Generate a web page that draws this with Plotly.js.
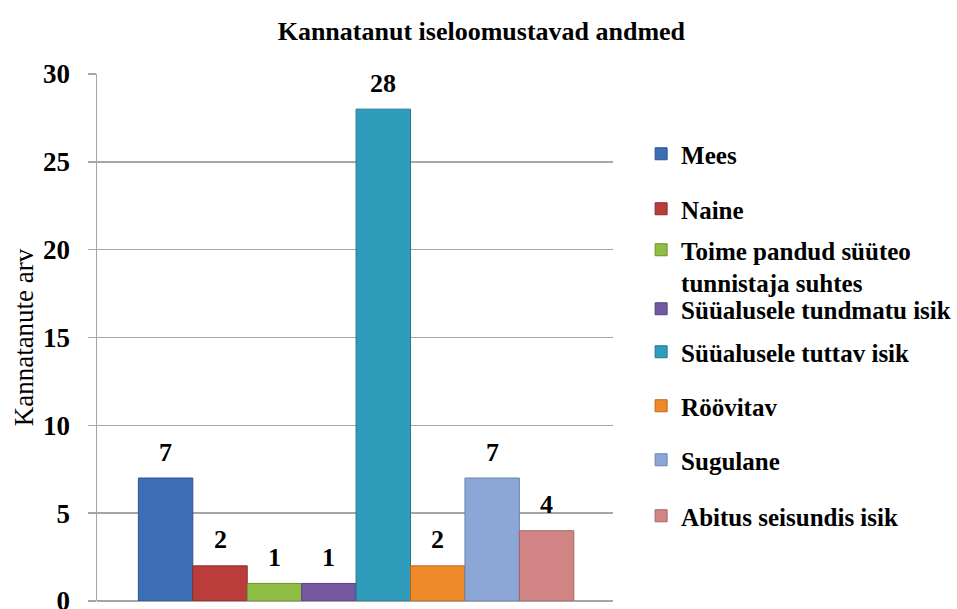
<!DOCTYPE html>
<html>
<head>
<meta charset="utf-8">
<script src="https://cdn.plot.ly/plotly-3.0.1.min.js"></script>
<style>html,body{margin:0;padding:0;background:#fff;overflow:hidden}#chart{width:957px;height:609px}</style>
</head>
<body>
<div id="chart"></div>
<script>
const categories = ["Mees", "Naine", "Toime pandud süüteo<br>tunnistaja suhtes", "Süüalusele tundmatu isik", "Süüalusele tuttav isik", "Röövitav", "Sugulane", "Abitus seisundis isik"];
const values = [7, 2, 1, 1, 28, 2, 7, 4];
const colors = ["#3d6db5", "#bb3d3b", "#8fbe45", "#7559a0", "#2f9cbb", "#ef8a2a", "#8ca6d6", "#d08584"];
const lineColors = ["#2c5490", "#8f2b2a", "#6c9030", "#574080", "#22788f", "#b8661c", "#6a83b0", "#a66564"];
const yTicks = [0, 5, 10, 15, 20, 25, 30];
// legend entry centres (pixels from top of the figure)
const legendCentres = [154, 209, 266, 309, 352, 406, 460, 516];

const serif = "Liberation Serif";
const plotTop = 74, plotBottom = 601;

const legendKeys = categories.map((_, i) => i === 0 ? "legend" : "legend" + (i + 1));

const traces = categories.map((name, i) => ({
  type: "bar",
  name: "<b>" + name.replace("<br>", "</b><br><b>") + "</b>",
  x: [i],
  y: [values[i]],
  width: 1,
  legend: legendKeys[i],
  marker: { color: colors[i], line: { color: lineColors[i], width: 1 } },
  hoverinfo: "name+y"
}));

const annotations = values.map((v, i) => ({
  x: i, y: v, xref: "x", yref: "y",
  text: "<b>" + v + "</b>", showarrow: false, yshift: 26,
  font: { family: serif, size: 26, color: "#000" }
}));

const layout = {
  width: 957, height: 609,
  margin: { l: 97, r: 344, t: plotTop, b: 609 - plotBottom, autoexpand: false },
  paper_bgcolor: "#fff", plot_bgcolor: "#fff",
  barmode: "overlay",
  showlegend: true,
  font: { family: serif, color: "#000" },
  title: {
    text: "<b>Kannatanut iseloomustavad andmed</b>",
    font: { family: serif, size: 26, color: "#000" },
    x: 0.503, xanchor: "center", xref: "container",
    y: 1 - 31 / 609, yanchor: "middle", yref: "container"
  },
  xaxis: {
    range: [-1.26, 8.22], showticklabels: false, ticks: "",
    showgrid: false, zeroline: false, showline: false, fixedrange: true
  },
  yaxis: {
    range: [0, 30], tickvals: yTicks, ticktext: yTicks.map(v => "<b>" + v + "</b>"),
    showgrid: true, gridcolor: "#a6a6a6", gridwidth: 1.5,
    zeroline: true, zerolinecolor: "#a6a6a6", zerolinewidth: 1.5,
    showline: true, linecolor: "#a6a6a6", linewidth: 1.5,
    ticks: "outside", ticklen: 8, tickcolor: "#a6a6a6", tickwidth: 1.5,
    ticklabelstandoff: 12, ticklabeloverflow: "allow",
    tickfont: { family: serif, size: 27, color: "#000" },
    title: { text: "Kannatanute arv", font: { family: serif, size: 27, color: "#000" } }
  },
  annotations: annotations
};

legendKeys.forEach((key, i) => {
  layout[key] = {
    x: 1.0545, xanchor: "left",
    y: (plotBottom - legendCentres[i]) / (plotBottom - plotTop), yanchor: "middle",
    bgcolor: "rgba(0,0,0,0)", borderwidth: 0,
    font: { family: serif, size: 25, color: "#000" },
    valign: "top", itemclick: false, itemdoubleclick: false
  };
});

Plotly.newPlot("chart", traces, layout, { displayModeBar: false, staticPlot: true });
</script>
</body>
</html>
